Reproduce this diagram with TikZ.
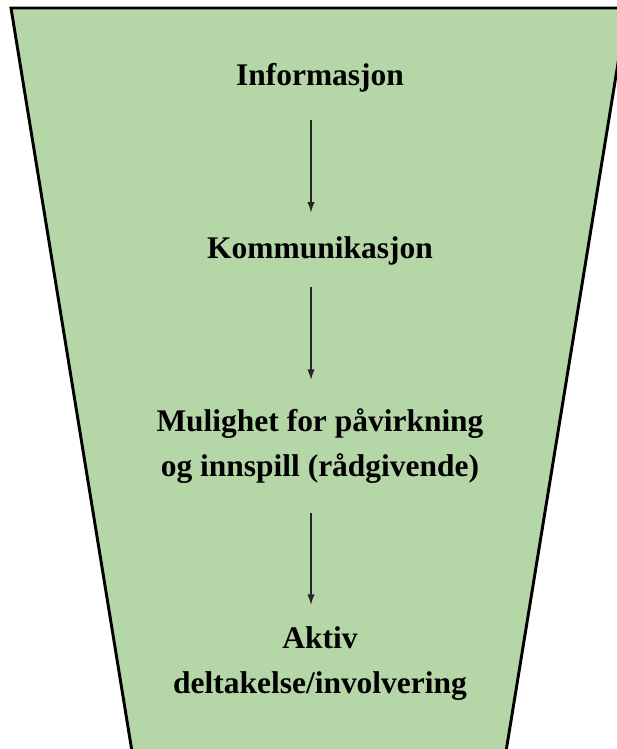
\documentclass[tikz,border=0pt]{standalone}
\usepackage{fontspec}
\setmainfont{Liberation Serif}
\usepackage{tikz}
\usetikzlibrary{arrows.meta,calc}
\definecolor{funnelgreen}{RGB}{181,214,167}

\begin{document}
\begin{tikzpicture}[x=0.75pt,y=-0.75pt,
  label/.style={font=\bfseries\fontsize{23.6pt}{33.5pt}\selectfont, align=center, inner sep=0pt, anchor=base},
  flow/.style={line width=1.1pt, draw=black!85, -{Latex[length=8pt,width=5.5pt]}}]
\useasboundingbox (0,0) rectangle (617,749);
\begin{scope} % start of clip scope
\clip (0,0) rectangle (617,749);
\draw[fill=funnelgreen, line width=2.2pt, line join=miter] (11,8) -- (627,8) -- (503,770) -- (135,770) -- cycle;
\end{scope} % end of clip scope
\node[label] (info) at (320,85) {Informasjon};
\node[label] (komm) at (320,258) {Kommunikasjon};
\node[label] (mulig) at (320,476) {Mulighet for påvirkning\\og innspill (rådgivende)};
\node[label] (aktiv) at (320,693) {Aktiv\\deltakelse/involvering};
\draw[flow] ([xshift=-6.75pt,yshift=-26pt]info.base) -- ([xshift=-6.75pt,yshift=34pt]komm.base);
\draw[flow] ([xshift=-6.75pt,yshift=-22pt]komm.base) -- ([xshift=-6.75pt,yshift=72pt]mulig.base);
\draw[flow] ([xshift=-6.75pt,yshift=-28pt]mulig.base) -- ([xshift=-6.75pt,yshift=66pt]aktiv.base);
\end{tikzpicture}
\end{document}
